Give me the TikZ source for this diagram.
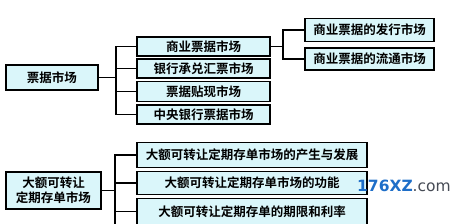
\documentclass[tikz,border=0pt]{standalone}
\usepackage{fontspec}
\newfontfamily\cjk{Noto Sans CJK SC}[BoldFont={Noto Sans CJK SC Bold}]
\setsansfont{DejaVu Sans}
\definecolor{boxfill}{RGB}{218,246,250}
\definecolor{wmblue}{RGB}{30,110,200}
\definecolor{wmgray}{RGB}{70,75,85}
\begin{document}
\begin{tikzpicture}[x=1pt,y=-1pt,
  box/.style={draw=black,line width=1.6pt,fill=boxfill,inner sep=0pt,align=center,
    font=\cjk\bfseries\fontsize{12.5}{15}\selectfont},
  conn/.style={line width=1.6pt}]
\useasboundingbox (0,0) rectangle (455,223);
\clip (0,0) rectangle (455,223);
% top group
\node[box,minimum width=92pt,minimum height=25pt] (pj) at (52,77.5) {票据市场};
\node[box,minimum width=133pt,minimum height=19pt] (m1) at (203.5,46.5) {商业票据市场};
\node[box,minimum width=133pt,minimum height=19pt] (m2) at (203.5,68.5) {银行承兑汇票市场};
\node[box,minimum width=133pt,minimum height=20pt] (m3) at (203.5,91.5) {票据贴现市场};
\node[box,minimum width=133pt,minimum height=19pt] (m4) at (203.5,114.5) {中央银行票据市场};
\node[box,minimum width=129pt,minimum height=23pt] (r1) at (369.5,30) {商业票据的发行市场};
\node[box,minimum width=129pt,minimum height=22pt] (r2) at (369.5,59) {商业票据的流通市场};
\coordinate (s1) at (116,77.5);
\coordinate (s2) at (283,46.5);
\draw[conn] (pj.east) -- (s1);
\draw[conn] (m1.west) -- (m1.west -| s1) -- (m4.west -| s1) -- (m4.west);
\draw[conn] (m2.west) -- (m2.west -| s1);
\draw[conn] (m3.west) -- (m3.west -| s1);
\draw[conn] (m1.east) -- (s2);
\draw[conn] (r1.west) -- (r1.west -| s2) -- (r2.west -| s2) -- (r2.west);
% bottom group
\node[box,minimum width=95pt,minimum height=37pt] (cd) at (53.5,190.5) {大额可转让\\定期存单市场};
\node[box,minimum width=230pt,minimum height=25pt] (b1) at (252,155) {大额可转让定期存单市场的产生与发展};
\node[box,minimum width=230pt,minimum height=23pt] (b2) at (252,183) {大额可转让定期存单市场的功能};
\node[box,minimum width=230pt,minimum height=26pt] (b3) at (252,211.5) {大额可转让定期存单的期限和利率};
\coordinate (s3) at (115,190.5);
\coordinate (send) at (115,235);
\draw[conn] (cd.east) -- (s3);
\draw[conn] (b1.west) -- (b1.west -| s3) -- (send);
\draw[conn] (b2.west) -- (b2.west -| s3);
\draw[conn] (b3.west) -- (b3.west -| s3);
% watermark
\node[anchor=base west,inner sep=0pt,font=\sffamily\fontsize{15.5}{19}\selectfont] (wm) at (357,191)
  {\textcolor{wmblue}{\bfseries 176XZ}\textcolor{wmgray}{.com}};
\end{tikzpicture}
\end{document}
